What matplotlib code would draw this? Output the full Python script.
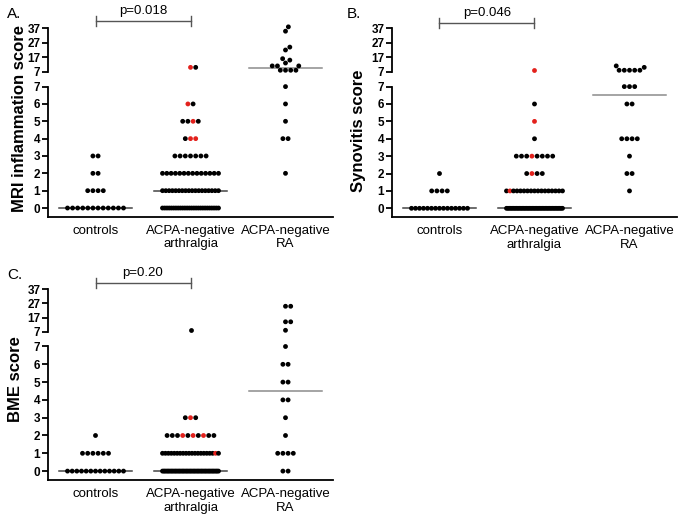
import numpy as np
import matplotlib
matplotlib.use('Agg')
import matplotlib.pyplot as plt
import matplotlib.transforms as mtransforms

plt.rcParams['font.family'] = ['Liberation Sans', 'DejaVu Sans']

groups = ['controls', 'ACPA-negative\narthralgia', 'ACPA-negative\nRA']
lower_ticks = [0, 1, 2, 3, 4, 5, 6, 7]
upper_ticks = [7, 17, 27, 37]

# ---- A. MRI inflammation score ----
mri_ctrl_vals = [0, 1, 2, 3]
mri_ctrl_n = [12, 4, 2, 2]
mri_arth_vals = [0, 1, 2, 3, 4, 5, 6]
mri_arth_n = [26, 18, 14, 7, 3, 4, 2]
mri_arth_high = [10, 10]
mri_arth_red = [(4, 1), (4, 2), (5, 2), (6, 0), (10, 0)]
mri_ra_vals = [2, 4, 5, 6, 7]
mri_ra_n = [1, 2, 1, 1, 1]
mri_ra_high = [8, 8, 8, 8, 11, 11, 11, 13, 15, 16, 22, 24, 35, 38]
mri_medians = [0, 1, 9.5]

# ---- B. Synovitis score ----
syn_ctrl_vals = [0, 1, 2]
syn_ctrl_n = [15, 4, 1]
syn_arth_vals = [0, 1, 2, 3, 4, 5, 6]
syn_arth_n = [40, 17, 4, 8, 1, 1, 1]
syn_arth_high = [8]
syn_arth_red = [(1, 1), (2, 1), (3, 3), (5, 0), (8, 0)]
syn_ra_vals = [1, 2, 3, 4, 6, 7]
syn_ra_n = [1, 2, 1, 4, 2, 3]
syn_ra_high = [8, 8, 8, 8, 8, 10, 11]
syn_medians = [0, 0, 6.5]

# ---- C. BME score ----
bme_ctrl_vals = [0, 1, 2]
bme_ctrl_n = [13, 6, 1]
bme_arth_vals = [0, 1, 2, 3]
bme_arth_n = [42, 20, 10, 3]
bme_arth_high = [8]
bme_arth_red = [(1, 18), (2, 3), (2, 5), (2, 7), (3, 1)]
bme_ra_vals = [0, 1, 2, 3, 4, 5, 6, 7]
bme_ra_n = [2, 4, 1, 1, 2, 2, 2, 1]
bme_ra_high = [8, 14, 14, 25, 25]
bme_medians = [0, 0, 4.5]

W, H = 685, 517
RED = '#e3211c'
MEDIAN_COLORS = ['#444444', '#444444', '#8c8c8c']
DOT = 5.2      # px between dot centres
HALF = 28      # max half width of a row, px

fig = plt.figure(figsize=(W / 100, H / 100), dpi=100)


def rect(x0, x1, ytop, ybot):
    return [x0 / W, 1 - ybot / H, (x1 - x0) / W, (ybot - ytop) / H]


def row_offsets(n):
    step = DOT if n < 2 else min(DOT, 2 * HALF / (n - 1))
    return (np.arange(n) - (n - 1) / 2) * step


def swarm(ypix):
    out = np.zeros(len(ypix))
    placed = []
    for i in np.argsort(ypix, kind='stable'):
        y = ypix[i]
        cands = [0.0]
        for px, py in placed:
            dy = abs(py - y)
            if dy < DOT:
                dx = np.sqrt(DOT ** 2 - dy ** 2)
                cands += [px + dx, px - dx]
        cands.sort(key=abs)
        for c in cands:
            if all((c - px) ** 2 + (y - py) ** 2 >= DOT ** 2 - 1e-6 for px, py in placed):
                out[i] = c
                placed.append((c, y))
                break
    return out


def panel(lo_rect, up_rect, ylabel, label_xy, letter, letter_xy, pval, bracket_y,
          data, medians):
    ax = fig.add_axes(lo_rect)
    axu = fig.add_axes(up_rect)
    ax.set_xlim(-0.5, 2.5)
    axu.set_xlim(-0.5, 2.5)
    ax.set_ylim(-0.5, 7)
    axu.set_ylim(7, 37)
    px_x = lo_rect[2] * W / 3.0
    px_yu = up_rect[3] * H / 30.0

    for g, (vals, ns, high, reds) in enumerate(data):
        # lower rows
        xs, ys, cs = [], [], []
        for v, n in zip(vals, ns):
            offs = row_offsets(n)
            for k, o in enumerate(offs):
                xs.append(g + o / px_x)
                ys.append(v)
                cs.append(RED if (v, k) in reds else 'black')
        ax.scatter(xs, ys, s=12, c=cs, linewidths=0, zorder=3, clip_on=False)
        # upper section
        if high:
            hv = np.array(high, dtype=float)
            offs = swarm(hv * px_yu)
            cnt = {}
            hc = []
            for v in high:
                k = cnt.get(v, 0)
                cnt[v] = k + 1
                hc.append(RED if (v, k) in reds else 'black')
            axu.scatter(g + offs / px_x, hv, s=12, c=hc, linewidths=0,
                        zorder=3, clip_on=False)
        m = medians[g]
        target = axu if m > 7 else ax
        target.plot([g - 0.38, g + 0.38], [m, m], color=MEDIAN_COLORS[g],
                    lw=1.1, zorder=2)

    for a in (ax, axu):
        a.spines['top'].set_visible(False)
        a.spines['right'].set_visible(False)
        a.spines['left'].set_linewidth(1.3)
        a.tick_params(axis='y', length=4, width=1.3, pad=1.5, labelsize=8.5)
    ax.spines['bottom'].set_linewidth(1.3)
    axu.spines['bottom'].set_visible(False)
    axu.set_xticks([])
    ax.set_yticks(lower_ticks)
    axu.set_yticks(upper_ticks)
    for a in (ax, axu):
        for t in a.get_yticklabels():
            t.set_fontweight('bold')
    ax.set_xticks([0, 1, 2])
    ax.set_xticklabels(groups, fontsize=9.5, linespacing=1.15)
    ax.tick_params(axis='x', length=0, pad=6)
    axu.patch.set_visible(False)

    fig.text(label_xy[0] / W, 1 - label_xy[1] / H, ylabel, rotation=90,
             ha='center', va='center', fontsize=12, fontweight='bold')
    fig.text(letter_xy[0] / W, 1 - letter_xy[1] / H, letter, fontsize=11,
             ha='left', va='baseline')

    tr = mtransforms.blended_transform_factory(ax.transData, fig.transFigure)
    yb = 1 - bracket_y / H
    cap = 5.0 / H
    kw = dict(color='#555555', lw=1.0, transform=tr, clip_on=False)
    ax.plot([0, 1], [yb, yb], **kw)
    ax.plot([0, 0], [yb - cap, yb + cap], **kw)
    ax.plot([1, 1], [yb - cap, yb + cap], **kw)
    ax.text(0.5, yb + 4.0 / H, pval, transform=tr, ha='center', va='bottom',
            fontsize=9.5)


panel(rect(48, 333, 86.6, 216.7), rect(48, 333, 28.3, 71.7),
      'MRI inflammation score', (19.5, 118), 'A.', (7, 18), 'p=0.018', 20.7,
      [(mri_ctrl_vals, mri_ctrl_n, [], []),
       (mri_arth_vals, mri_arth_n, mri_arth_high, mri_arth_red),
       (mri_ra_vals, mri_ra_n, mri_ra_high, [])],
      mri_medians)

panel(rect(392, 677, 86.6, 217), rect(392, 677, 28.3, 71.7),
      'Synovitis score', (359, 131), 'B.', (347, 18), 'p=0.046', 22.7,
      [(syn_ctrl_vals, syn_ctrl_n, [], []),
       (syn_arth_vals, syn_arth_n, syn_arth_high, syn_arth_red),
       (syn_ra_vals, syn_ra_n, syn_ra_high, [])],
      syn_medians)

panel(rect(48, 333, 346.5, 480), rect(48, 333, 289.3, 331.7),
      'BME score', (16, 379), 'C.', (7, 279), 'p=0.20', 283.3,
      [(bme_ctrl_vals, bme_ctrl_n, [], []),
       (bme_arth_vals, bme_arth_n, bme_arth_high, bme_arth_red),
       (bme_ra_vals, bme_ra_n, bme_ra_high, [])],
      bme_medians)

fig.savefig('out.png', dpi=100)
